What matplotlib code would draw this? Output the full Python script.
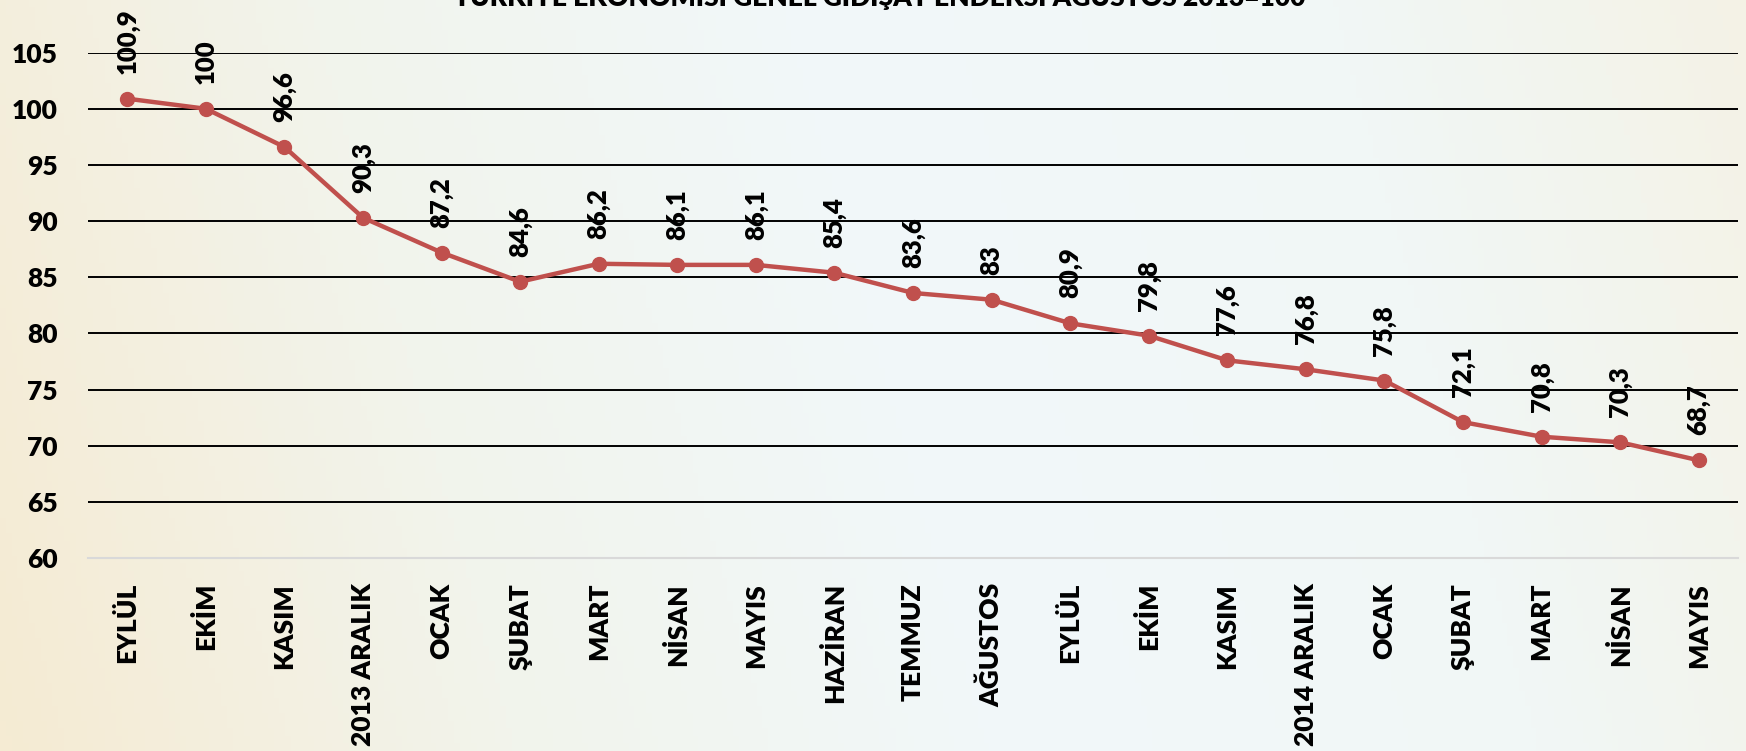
import matplotlib
matplotlib.use('Agg')
import matplotlib.pyplot as plt
import numpy as np
from matplotlib.colors import LinearSegmentedColormap

# veri
aylar = ['EYLÜL', 'EKİM', 'KASIM', '2013 ARALIK', 'OCAK', 'ŞUBAT', 'MART', 'NİSAN',
         'MAYIS', 'HAZİRAN', 'TEMMUZ', 'AĞUSTOS', 'EYLÜL', 'EKİM', 'KASIM',
         '2014 ARALIK', 'OCAK', 'ŞUBAT', 'MART', 'NİSAN', 'MAYIS']
endeks = [100.9, 100, 96.6, 90.3, 87.2, 84.6, 86.2, 86.1, 86.1, 85.4, 83.6,
          83, 80.9, 79.8, 77.6, 76.8, 75.8, 72.1, 70.8, 70.3, 68.7]
yticks = [60, 65, 70, 75, 80, 85, 90, 95, 100, 105]
baslik = 'TÜRKİYE EKONOMİSİ GENEL GİDİŞAT ENDEKSİ AĞUSTOS 2013=100'

plt.rcParams['font.family'] = ['Lato', 'DejaVu Sans']
kalin = 'heavy'

W, H = 1746, 751
fig = plt.figure(figsize=(W / 100, H / 100), dpi=100)

# arka plan gradyani
bg = fig.add_axes([0, 0, 1, 1], zorder=-10)
cmap = LinearSegmentedColormap.from_list('bg', ['#F5EBD3', '#F2F4EC', '#F1F8FA', '#F1F7F6', '#F5F1E2'])
gx = np.linspace(0, 1, 300)
gy = np.linspace(0, 1, 100)
X, Y = np.meshgrid(gx, gy)
bg.imshow(X * 0.85 + 0.1 * (1 - Y), cmap=cmap, aspect='auto', extent=[0, 1, 0, 1], vmin=0, vmax=1)
bg.axis('off')

ax = fig.add_axes([88 / W, 1 - 558 / H, (1738 - 88) / W, (558 - 53) / H + 0.0005])
ax.set_facecolor('none')
x = np.arange(len(endeks))
ax.plot(x, endeks, color='#C0504D', lw=3.2, marker='o', ms=10, zorder=5)

for xi, v in zip(x, endeks):
    lab = ('%g' % v).replace('.', ',')
    ax.annotate(lab, (xi, v), xytext=(0, 18), textcoords='offset points',
                rotation=90, ha='center', va='bottom', fontsize=18.5, fontweight=kalin,
                annotation_clip=False)

ax.set_xlim(-0.5, len(endeks) - 0.5)
ax.set_ylim(60, 105)
ax.set_yticks(yticks)
ax.set_xticks(x)
ax.set_xticklabels(aylar, rotation=90, fontsize=19, fontweight=kalin, va='top', ha='center')
ax.tick_params(axis='y', labelsize=19, length=0, pad=22)
ax.tick_params(axis='x', length=0, pad=18)
for t in ax.get_yticklabels():
    t.set_fontweight(kalin)
ax.grid(axis='y', color='black', lw=1.4)
ax.set_axisbelow(True)
for s in ['top', 'right', 'left']:
    ax.spines[s].set_visible(False)
ax.spines['bottom'].set_color('#D9D9D9')
ax.spines['bottom'].set_linewidth(1.5)
ax.spines['bottom'].set_zorder(3)

fig.text(880 / W, 1 - 10 / H, baslik, ha='center', va='bottom', fontsize=19, fontweight=kalin)

fig.savefig('out.png', dpi=100)
